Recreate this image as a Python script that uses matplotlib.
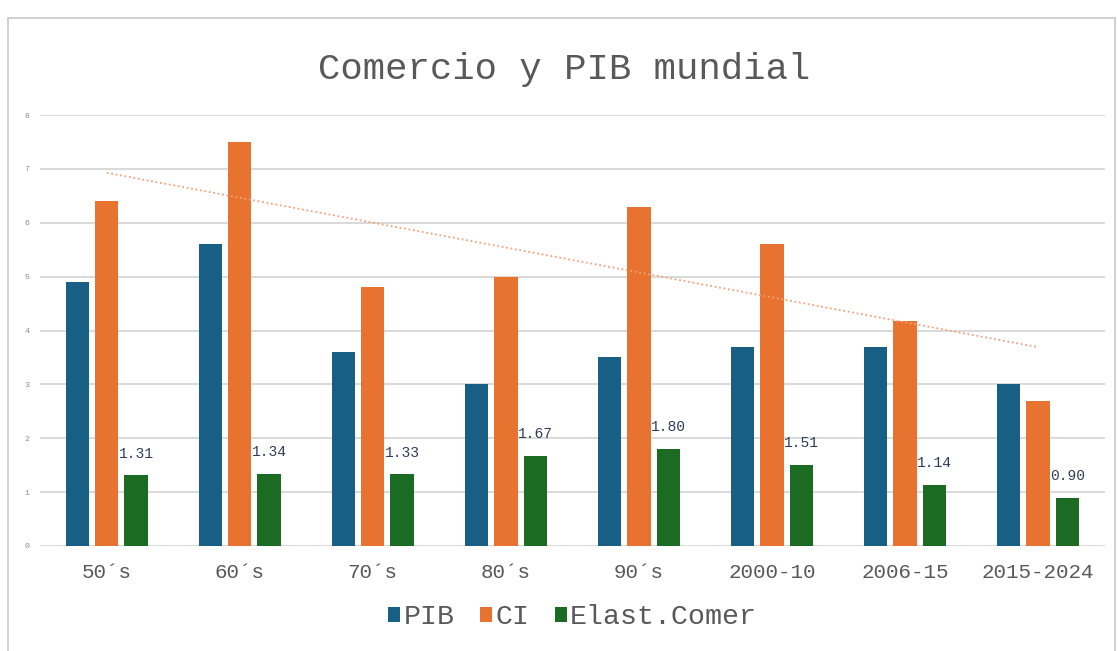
import numpy as np
import matplotlib
matplotlib.use("Agg")
import matplotlib.pyplot as plt
from matplotlib.patches import Rectangle

# Data
periodos = ["50´s", "60´s", "70´s", "80´s", "90´s", "2000-10", "2006-15", "2015-2024"]
pib = [4.9, 5.6, 3.6, 3.0, 3.5, 3.7, 3.7, 3.0]
ci = [6.4, 7.5, 4.8, 5.0, 6.3, 5.6, 4.17, 2.7]
elast = [1.31, 1.34, 1.33, 1.67, 1.80, 1.51, 1.14, 0.90]

c_pib = "#175f84"
c_ci = "#e8722f"
c_el = "#1b6b23"
mono = "Liberation Mono"

fig = plt.figure(figsize=(11.18, 6.51), dpi=100)
ax = fig.add_axes([0.036, 0.1613, 0.952, 0.662])

# Outer frame of the chart area
fig.patches.append(Rectangle((0.007, -0.01), 0.99, 0.982, transform=fig.transFigure,
                             fill=False, edgecolor="#c8c8c8", linewidth=1.2))

x = np.arange(len(periodos))
w = 0.175
off = 0.22
ax.bar(x - off, pib, w, color=c_pib, label="PIB", zorder=3)
ax.bar(x, ci, w, color=c_ci, label="CI", zorder=3)
bars = ax.bar(x + off, elast, w, color=c_el, label="Elast.Comer", zorder=3)

for b, v in zip(bars, elast):
    ax.text(b.get_x() + b.get_width() / 2, v + 0.27, f"{v:.2f}", ha="center", va="bottom",
            fontsize=10.5, family=mono, color="#2f3d5c", zorder=4)

# Linear trend of CI
coef = np.polyfit(x, ci, 1)
ax.plot(x, np.polyval(coef, x), linestyle=(0, (1, 1.5)), color="#f2a27c", linewidth=1.3, zorder=4)

ax.set_xlim(-0.5, 7.5)
ax.set_ylim(0, 8)
ax.set_yticks(range(0, 9))
ax.set_xticks(x)
ax.set_xticklabels(periodos, family=mono, fontsize=15, color="#595959")
ax.tick_params(axis="y", labelsize=6, labelcolor="#8a8aa0", length=0, pad=8)
ax.tick_params(axis="x", length=0, pad=12)
for lab in ax.get_yticklabels():
    lab.set_family(mono)
ax.grid(True, axis="y", color="#d9d9d9", linewidth=1.4, zorder=0)
for s in ax.spines.values():
    s.set_visible(False)

fig.text(0.505, 0.893, "Comercio y PIB mundial", ha="center", va="center",
         family=mono, fontsize=26.8, color="#595959")

leg = fig.legend(loc="center", bbox_to_anchor=(0.512, 0.052), ncol=3, frameon=False,
                 prop={"family": mono, "size": 20.3}, handlelength=0.45, handleheight=0.45,
                 handletextpad=0.1, columnspacing=0.9)
for t in leg.get_texts():
    t.set_color("#595959")

fig.savefig("out.png", dpi=100)
